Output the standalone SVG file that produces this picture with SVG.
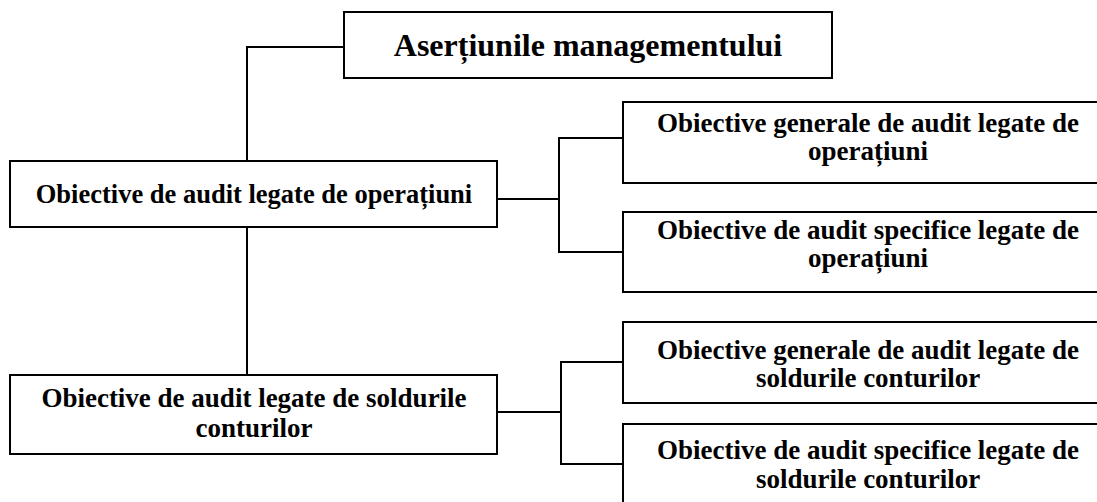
<svg xmlns="http://www.w3.org/2000/svg" width="1097" height="502" viewBox="0 0 1097 502">
<style>
.box{fill:#fff;stroke:#000;stroke-width:2}
.ln{fill:none;stroke:#000;stroke-width:2}
.t{font-family:"Liberation Serif","Times New Roman",serif;font-weight:bold;font-size:27px;fill:#000;text-anchor:middle}
.title{font-size:32px}
.mid{font-size:26.5px}
</style>
<rect width="1097" height="502" fill="#fff"/>
<g id="connectors">
<polyline class="ln" points="344,47 247,47 247,161"/>
<line class="ln" x1="247" y1="227" x2="247" y2="375"/>
<line class="ln" x1="497" y1="199" x2="559" y2="199"/>
<polyline class="ln" points="623,138 559,138 559,252 623,252"/>
<line class="ln" x1="497" y1="412" x2="561" y2="412"/>
<polyline class="ln" points="623,362 561,362 561,464 623,464"/>
</g>
<g id="n-asertiuni">
<rect class="box" x="344" y="12" width="488" height="66"/>
<text class="t title" x="588" y="56">Aserțiunile managementului</text>
</g>
<g id="n-operatiuni">
<rect class="box" x="10" y="161" width="487" height="66"/>
<text class="t mid" x="254" y="203">Obiective de audit legate de operațiuni</text>
</g>
<g id="n-solduri">
<rect class="box" x="10" y="375" width="487" height="79"/>
<text class="t" x="254" y="407">Obiective de audit legate de soldurile</text>
<text class="t" x="254" y="437">conturilor</text>
</g>
<g id="n-gen-op">
<rect class="box" x="623" y="102" width="490" height="81"/>
<text class="t" x="868" y="132">Obiective generale de audit legate de</text>
<text class="t" x="868" y="160">operațiuni</text>
</g>
<g id="n-spec-op">
<rect class="box" x="623" y="212" width="490" height="80"/>
<text class="t" x="868" y="239">Obiective de audit specifice legate de</text>
<text class="t" x="868" y="267">operațiuni</text>
</g>
<g id="n-gen-sold">
<rect class="box" x="623" y="322" width="490" height="81"/>
<text class="t" x="868" y="359">Obiective generale de audit legate de</text>
<text class="t" x="868" y="387">soldurile conturilor</text>
</g>
<g id="n-spec-sold">
<rect class="box" x="623" y="424" width="490" height="84"/>
<text class="t" x="868" y="459">Obiective de audit specifice legate de</text>
<text class="t" x="868" y="488">soldurile conturilor</text>
</g>
</svg>
